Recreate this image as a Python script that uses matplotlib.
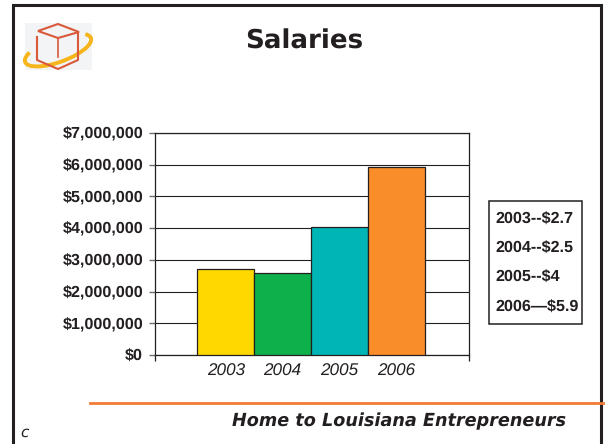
import matplotlib
matplotlib.use("Agg")
import matplotlib.pyplot as plt
from matplotlib.patches import Rectangle, Polygon, Arc
from matplotlib.ticker import FuncFormatter

plt.rcParams["text.hinting"] = "none"

years = ["2003", "2004", "2005", "2006"]
salaries = [2700000, 2600000, 4030000, 5920000]
bar_colors = ["#FFD800", "#0DB04B", "#00B5B5", "#F98D29"]
y_ticks = [0, 1000000, 2000000, 3000000, 4000000, 5000000, 6000000, 7000000]
legend_lines = ["2003--$2.7", "2004--$2.5", "2005--$4", "2006\u2014$5.9"]

W, H = 605, 444
DARK = "#231F20"

fig = plt.figure(figsize=(W / 100, H / 100), dpi=100, facecolor="white")

# background layer in pixel coordinates for the slide furniture
bg = fig.add_axes([0, 0, 1, 1])
bg.set_xlim(0, W)
bg.set_ylim(H, 0)
bg.axis("off")

bg.plot([12.5, 12.5, 600.5, 600.5], [H, 5, 5, H], color=DARK, linewidth=2.2,
        solid_joinstyle="miter")
bg.plot([90, W], [403, 403], color="#F47B36", linewidth=2.0)

bg.text(304, 41, "Salaries", family="DejaVu Sans", fontweight="bold",
        fontsize=18.8, color=DARK, ha="center", va="center")
bg.text(399, 421, "Home to Louisiana Entrepreneurs", family="DejaVu Sans",
        fontweight="bold", style="italic", fontsize=12.7, color=DARK,
        ha="center", va="center")
bg.text(24, 433, "c", family="DejaVu Sans", style="italic", fontsize=11,
        color=DARK, ha="center", va="center")

# logo: cube with a yellow ring passing in front
bg.add_patch(Rectangle((25, 23), 67, 47, facecolor="#F3F4F5", edgecolor="none"))
bg.add_patch(Polygon([(38, 31), (58, 24), (79, 32), (58, 38)], fill=False,
                     edgecolor="#D9593A", linewidth=1.5))
bg.plot([37, 37, 58, 78, 78], [37, 60, 69, 60, 33], color="#D9593A", linewidth=1.5)
bg.plot([58, 58], [38, 57], color="#D9593A", linewidth=1.2)
bg.add_patch(Arc((58, 50), 70, 24, angle=-20, theta1=-10, theta2=195,
                 edgecolor="#F5B51B", linewidth=2.8))

# legend box
bg.add_patch(Rectangle((489, 201), 93, 123, facecolor="white", edgecolor=DARK,
                       linewidth=1.1))
for i, line in enumerate(legend_lines):
    bg.text(495, 219.5 + i * 29.3, line, family="Liberation Sans", fontweight="bold",
            fontsize=11.6, color=DARK, ha="left", va="center")

# chart
left, right, top, bottom = 155, 469, 133, 355
ax = fig.add_axes([left / W, 1 - bottom / H, (right - left) / W, (bottom - top) / H])
ax.set_facecolor("none")

ax.bar(range(len(years)), salaries, width=1.0, color=bar_colors,
       edgecolor=DARK, linewidth=0.9, zorder=3)

ax.set_xlim(-1.24, 4.27)
ax.set_ylim(0, 7000000)
ax.set_yticks(y_ticks)
ax.yaxis.set_major_formatter(FuncFormatter(lambda v, _: f"${v:,.0f}"))
ax.grid(True, axis="y", color=DARK, linewidth=0.8, zorder=1)
ax.set_axisbelow(True)

ax.set_xticks([-1.24, 4.27])
ax.set_xticklabels([])
ax.tick_params(axis="x", length=4, width=0.9, color=DARK, direction="out")
ax.tick_params(axis="y", length=4.5, width=1.0, color="#6D6E71", direction="out",
               pad=4, labelsize=11.6, labelcolor=DARK)
for label in ax.get_yticklabels():
    label.set_family("Liberation Sans")
    label.set_fontweight("bold")

for i, year in enumerate(years):
    ax.annotate(year, xy=(i, 0), xytext=(0, -16), textcoords="offset pixels",
                family="Liberation Sans", style="italic", fontsize=12.3,
                color=DARK, ha="center", va="center", annotation_clip=False)

for spine in ax.spines.values():
    spine.set_color(DARK)
    spine.set_linewidth(0.9)

fig.savefig("out.png", dpi=100)
